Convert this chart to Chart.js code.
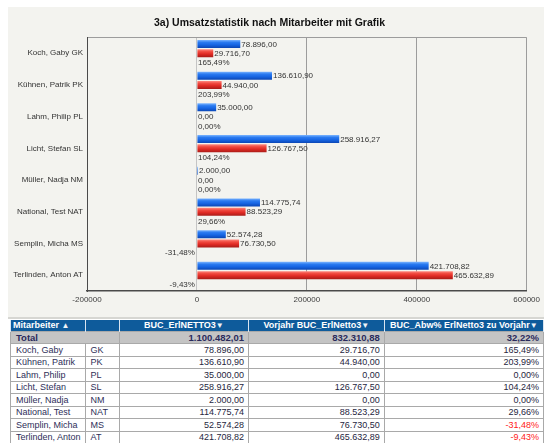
<!DOCTYPE html>
<html>
<head>
<meta charset="utf-8">
<script src="https://cdn.jsdelivr.net/npm/chart.js@4/dist/chart.umd.min.js"></script>
<style>
  html, body { margin: 0; padding: 0; background: #ffffff; }
  body { width: 544px; height: 443px; position: relative; overflow: hidden; font-family: "Liberation Sans", Arial, sans-serif; }
  #panel { position: absolute; left: 8px; top: 7px; width: 536px; height: 310px; background: #f3f3ef; }
  #panel canvas { position: absolute; left: 0; top: 0; }
  #sep { position: absolute; left: 8px; top: 317px; width: 536px; height: 2px; background: #d6d6d2; }
  #tbl { position: absolute; left: 10px; top: 320px; border-collapse: collapse; table-layout: fixed; font-size: 9px; }
  #tbl th { background: #0e5b9b; color: #ffffff; font-weight: bold; height: 10px; padding: 0 2px; border-left: 1px solid #d8e4f0; border-right: 1px solid #d8e4f0; white-space: nowrap; overflow: hidden; line-height: 10px; }
  #tbl th.l { text-align: left; }
  #tbl th.c { text-align: center; }
  #tbl td { border: 1px solid #a9a9a9; height: 11.5px; padding: 0 4px 0 5px; white-space: nowrap; overflow: hidden; color: #2e2e58; line-height: 10px; }
  #tbl td.n { text-align: right; color: #262640; }
  #tbl td.neg { color: #ff2020; }
  #tbl tr.tot td { background: #c4c4c4; font-weight: bold; color: #2a2a5c; height: 11px; font-size: 9.5px; }
  .tri { font-size: 8px; color: #eef3f8; }
</style>
</head>
<body>
<div id="panel"><canvas id="c" width="536" height="309"></canvas></div>
<div id="sep"></div>
<table id="tbl"></table>
<script>
// ---- data ----
const categories = ["Koch, Gaby GK", "Kühnen, Patrik PK", "Lahm, Philip PL", "Licht, Stefan SL", "Müller, Nadja NM", "National, Test NAT", "Semplin, Micha MS", "Terlinden, Anton AT"];
const names = ["Koch, Gaby", "Kühnen, Patrik", "Lahm, Philip", "Licht, Stefan", "Müller, Nadja", "National, Test", "Semplin, Micha", "Terlinden, Anton"];
const codes = ["GK", "PK", "PL", "SL", "NM", "NAT", "MS", "AT"];
const erlNetto3 = [78896.00, 136610.90, 35000.00, 258916.27, 2000.00, 114775.74, 52574.28, 421708.82];
const vorjahrErlNetto3 = [29716.70, 44940.00, 0.00, 126767.50, 0.00, 88523.29, 76730.50, 465632.89];
const abwProzent = [165.49, 203.99, 0.00, 104.24, 0.00, 29.66, -31.48, -9.43];
const totals = [1100482.01, 832310.88, 32.22];
const xTicks = [-200000, 0, 200000, 400000, 600000];
const title = "3a) Umsatzstatistik nach Mitarbeiter mit Grafik";
const headers = ["Mitarbeiter", "BUC_ErlNETTO3", "Vorjahr BUC_ErlNetto3", "BUC_Abw% ErlNetto3 zu Vorjahr"];

// ---- helpers ----
function fmt(v) {
  const neg = v < 0;
  const s = Math.abs(v).toFixed(2);
  let [i, d] = s.split('.');
  i = i.replace(/\B(?=(\d{3})+(?!\d))/g, '.');
  return (neg ? '-' : '') + i + ',' + d;
}

const CAT_PCT = 0.88, BAR_PCT = 0.86;
function grad(c, stops) {
  const chart = c.chart;
  const ys = chart.scales && chart.scales.y;
  if (!ys || c.dataIndex === undefined || !chart.chartArea) return stops[2];
  const center = ys.getPixelForValue(c.dataIndex);
  const catH = (ys.bottom - ys.top) / categories.length;
  const slot = catH * CAT_PCT / 3;
  const h = slot * BAR_PCT;
  const y0 = center + (c.datasetIndex - 1) * slot - h / 2;
  const g = chart.ctx.createLinearGradient(0, y0, 0, y0 + h);
  g.addColorStop(0, stops[0]);
  g.addColorStop(0.3, stops[1]);
  g.addColorStop(0.6, stops[2]);
  g.addColorStop(1, stops[3]);
  return g;
}

const valueLabels = {
  id: 'valueLabels',
  afterDatasetsDraw(chart) {
    const ctx = chart.ctx;
    ctx.save();
    ctx.font = '8px "Liberation Sans", Arial, sans-serif';
    ctx.fillStyle = '#333333';
    ctx.textBaseline = 'middle';
    chart.data.datasets.forEach((ds, di) => {
      const meta = chart.getDatasetMeta(di);
      meta.data.forEach((el, i) => {
        const v = ds.data[i];
        const txt = di === 2 ? fmt(v) + '%' : fmt(v);
        if (v < 0) { ctx.textAlign = 'right'; ctx.fillText(txt, el.x - 2, el.y + 0.5); }
        else { ctx.textAlign = 'left'; ctx.fillText(txt, el.x + 1, el.y + 0.5); }
      });
    });
    ctx.restore();
  }
};

new Chart(document.getElementById('c'), {
  type: 'bar',
  data: {
    labels: categories,
    datasets: [
      { label: 'BUC_ErlNETTO3', data: erlNetto3,
        backgroundColor: c => grad(c, ['#7ab4ff', '#2a7af0', '#1766e4', '#0b46b4']) },
      { label: 'Vorjahr BUC_ErlNetto3', data: vorjahrErlNetto3,
        backgroundColor: c => grad(c, ['#ff8a80', '#f04a40', '#e02a24', '#a81c18']) },
      { label: 'BUC_Abw% ErlNetto3 zu Vorjahr', data: abwProzent,
        backgroundColor: 'rgba(0,0,0,0)' }
    ]
  },
  options: {
    indexAxis: 'y',
    responsive: false,
    animation: false,
    devicePixelRatio: 1,
    categoryPercentage: CAT_PCT,
    barPercentage: BAR_PCT,
    layout: { padding: { left: 0, right: 13, top: 0, bottom: 0 } },
    plugins: {
      legend: { display: false },
      tooltip: { enabled: false },
      title: {
        display: true, text: title, color: '#111111',
        font: { family: '"Liberation Sans", Arial, sans-serif', size: 10.5, weight: 'bold' },
        padding: { top: 9.5, bottom: 8.3 }
      }
    },
    scales: {
      x: {
        min: -200000, max: 600000,
        afterBuildTicks: s => { s.ticks = xTicks.map(v => ({ value: v })); },
        afterFit: s => { s.height = 25; },
        ticks: { color: '#404040', font: { family: '"Liberation Sans", Arial, sans-serif', size: 8 }, padding: 4, maxRotation: 0,
                 callback: v => String(v) },
        grid: { drawTicks: false, lineWidth: 1,
                color: c => (c.tick && c.tick.value === -200000) ? 'rgba(0,0,0,0)' : (c.tick && c.tick.value === 0 ? '#c4c4c4' : '#9c9c9c') },
        border: { display: true, color: '#4a4a4a', width: 1.5 }
      },
      y: {
        afterFit: s => { s.width = 79; },
        ticks: { color: '#333333', font: { family: '"Liberation Sans", Arial, sans-serif', size: 8 }, padding: 4 },
        grid: { drawTicks: false, offset: true, lineWidth: 1,
                color: c => c.index === 0 ? '#9c9c9c' : 'rgba(0,0,0,0)' },
        border: { display: true, color: '#4a4a4a', width: 1 }
      }
    }
  },
  plugins: [valueLabels]
});

// ---- table ----
const tbl = document.getElementById('tbl');
const colW = [71, 35, 135, 139, 160];
let html = '<colgroup>' + colW.map(w => '<col style="width:' + w + 'px">').join('') + '</colgroup>';
html += '<tr><th class="l">' + headers[0] + ' <span class="tri">▲</span></th><th></th>' +
        '<th class="c">' + headers[1] + '<span class="tri">▼</span></th>' +
        '<th class="c">' + headers[2] + '<span class="tri">▼</span></th>' +
        '<th class="c">' + headers[3] + '<span class="tri">▼</span></th></tr>';
html += '<tr class="tot"><td colspan="2">Total</td><td class="n">' + fmt(totals[0]) + '</td><td class="n">' + fmt(totals[1]) +
        '</td><td class="n">' + fmt(totals[2]) + '%</td></tr>';
for (let i = 0; i < names.length; i++) {
  html += '<tr><td>' + names[i] + '</td><td>' + codes[i] + '</td><td class="n">' + fmt(erlNetto3[i]) + '</td><td class="n">' +
          fmt(vorjahrErlNetto3[i]) + '</td><td class="n' + (abwProzent[i] < 0 ? ' neg' : '') + '">' + fmt(abwProzent[i]) + '%</td></tr>';
}
tbl.innerHTML = html;
</script>
</body>
</html>
